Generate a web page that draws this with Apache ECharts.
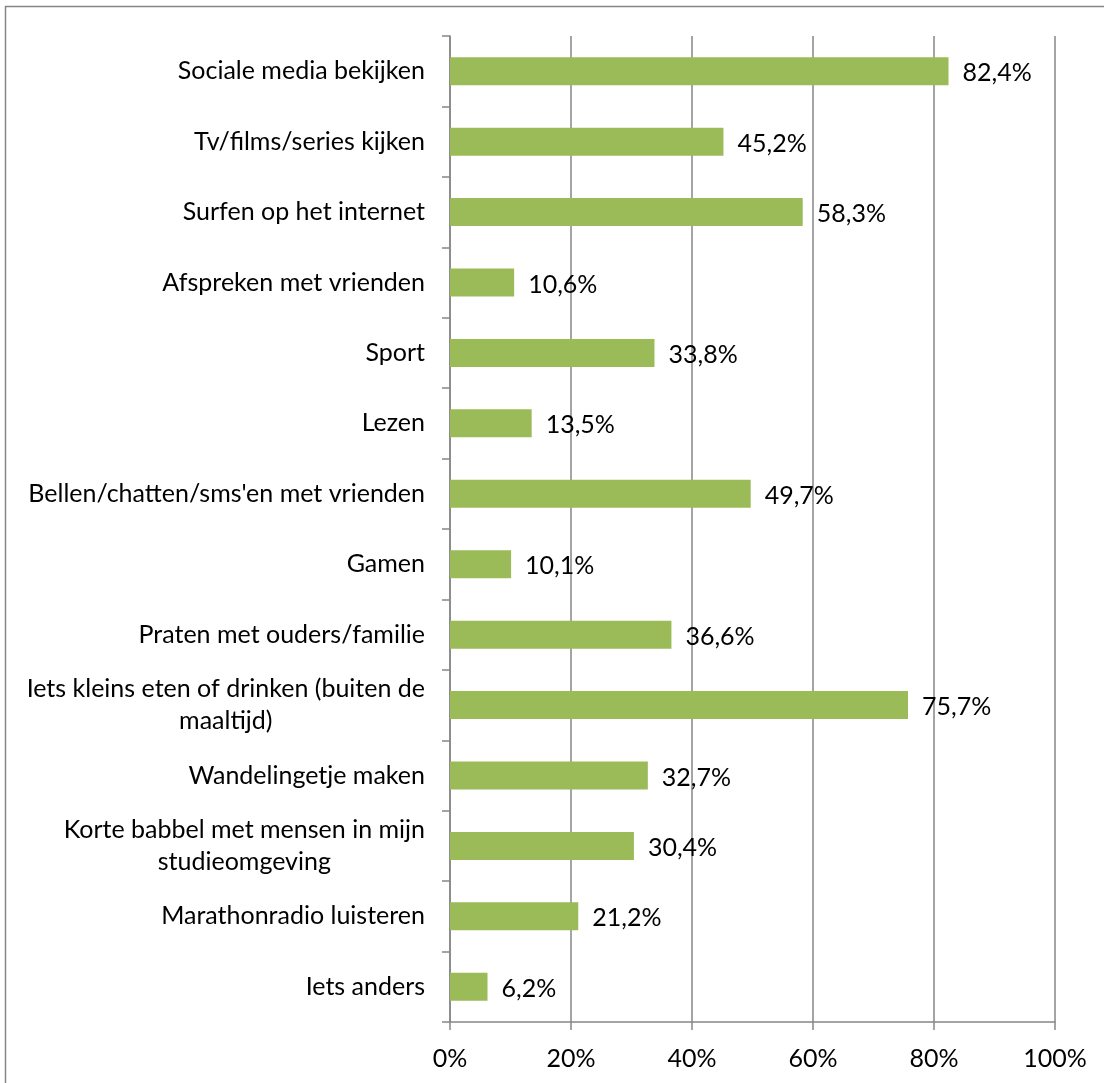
<!DOCTYPE html>
<html>
<head>
<meta charset="utf-8">
<script src="https://cdn.jsdelivr.net/npm/echarts@6/dist/echarts.min.js"></script>
<style>
html,body{margin:0;padding:0;background:#fff;}
#c{width:1104px;height:1083px;}
</style>
</head>
<body>
<div id="c"></div>
<script>
const categories = [
  "Sociale media bekijken",
  "Tv/films/series kijken",
  "Surfen op het internet",
  "Afspreken met vrienden",
  "Sport",
  "Lezen",
  "Bellen/chatten/sms'en met vrienden",
  "Gamen",
  "Praten met ouders/familie",
  "Iets kleins eten of drinken (buiten de\nmaaltijd)",
  "Wandelingetje maken",
  "Korte babbel met mensen in mijn\nstudieomgeving",
  "Marathonradio luisteren",
  "Iets anders"
];
const values = [82.4, 45.2, 58.3, 10.6, 33.8, 13.5, 49.7, 10.1, 36.6, 75.7, 32.7, 30.4, 21.2, 6.2];
const tickValues = [0, 20, 40, 60, 80, 100];

const FONT = "Lato";
const FS = 25;
const GRAY = "#868686";

const chart = echarts.init(document.getElementById('c'));
try {
  document.querySelectorAll('#c canvas').forEach(cv => {
    const ctx = cv.getContext('2d');
    if ('textRendering' in ctx) ctx.textRendering = 'optimizeSpeed';
  });
} catch (e) {}
chart.setOption({
  animation: false,
  backgroundColor: '#fff',
  textStyle: { fontFamily: FONT },
  graphic: [{
    type: 'rect',
    shape: { x: 5.5, y: 6.5, width: 1200, height: 1200 },
    style: { fill: 'none', stroke: GRAY, lineWidth: 1.5 },
    silent: true
  }],
  grid: { left: 450, top: 36, right: 49, bottom: 61, containLabel: false },
  xAxis: {
    type: 'value',
    min: tickValues[0],
    max: tickValues[tickValues.length - 1],
    interval: 20,
    axisLine: { show: true, lineStyle: { color: GRAY, width: 1.5 } },
    axisTick: { show: true, length: 8, lineStyle: { color: GRAY, width: 1.5 } },
    splitLine: { show: true, lineStyle: { color: GRAY, width: 1.5 } },
    axisLabel: {
      formatter: v => v + '%',
      color: '#000', fontFamily: FONT, fontSize: FS, margin: 24
    }
  },
  yAxis: {
    type: 'category',
    data: categories,
    inverse: true,
    axisLine: { show: true, lineStyle: { color: GRAY, width: 1.5 } },
    axisTick: { show: true, length: 8, lineStyle: { color: GRAY, width: 1.5 } },
    splitLine: { show: false },
    axisLabel: {
      margin: 25,
      color: '#000',
      fontFamily: FONT,
      fontSize: FS,
      lineHeight: 32,
      formatter: v => v.split('\n').map(s => '{c|' + s + '}').join('\n'),
      rich: { c: { align: 'center', fontFamily: FONT, fontSize: FS, color: '#000', lineHeight: 32 } }
    }
  },
  series: [{
    type: 'bar',
    data: values,
    barWidth: 28,
    itemStyle: { color: '#9BBB59' },
    label: {
      show: true,
      position: 'right',
      distance: 14,
      color: '#000',
      fontFamily: FONT,
      fontSize: FS,
      offset: [0, 2],
      formatter: p => p.value.toFixed(1).replace('.', ',') + '%'
    }
  }]
});
</script>
</body>
</html>
